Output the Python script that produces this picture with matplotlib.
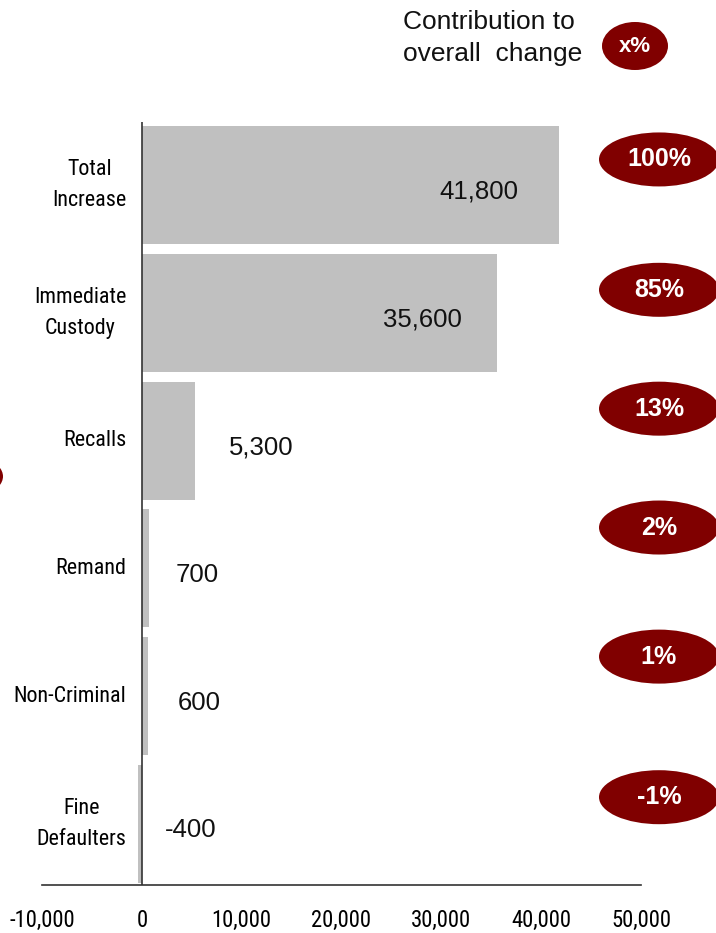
import matplotlib
matplotlib.use("Agg")
import matplotlib.pyplot as plt
from matplotlib.patches import Ellipse
from matplotlib import font_manager as fm

# ---------------- data ----------------
categories = ["Total\nIncrease", "Immediate\nCustody", "Recalls", "Remand",
              "Non-Criminal", "Fine\nDefaulters"]
values = [41800, 35600, 5300, 700, 600, -400]
value_labels = ["41,800", "35,600", "5,300", "700", "600", "-400"]
contributions = ["100%", "85%", "13%", "2%", "1%", "-1%"]
xticks = [-10000, 0, 10000, 20000, 30000, 40000, 50000]
xtick_labels = ["-10,000", "0", "10,000", "20,000", "30,000", "40,000", "50,000"]
legend_title = "Contribution to\noverall  change"
legend_badge = "x%"

# ---------------- layout / style ----------------
W, H = 716, 933
BAR = "#C0C0C0"
RED = "#800000"

names = {f.name for f in fm.fontManager.ttflist}
regular = [n for n in ["Liberation Sans", "DejaVu Sans"] if n in names]


def find_narrow():
    prefs = ["liberationsansnarrow-regular", "arialnarrow", "robotocondensed-regular",
             "opensanscondensed", "dejavusanscondensed.ttf", "notosans-condensed.ttf",
             "notosanscondensed-regular"]
    files = [f.fname for f in fm.fontManager.ttflist]
    for p in prefs:
        for fn in files:
            base = fn.lower().replace(" ", "").split("/")[-1]
            if base.startswith(p.split(".")[0]) and ("bold" not in base and "italic" not in base
                                                     and "light" not in base):
                return fn
    for f in fm.fontManager.ttflist:
        if str(f.stretch) in ("condensed", "semi-condensed", "semicondensed") and \
                f.weight in (400, "normal", "regular") and f.style == "normal":
            return f.fname
    return None


narrow_file = find_narrow()
if narrow_file:
    def nfp(size):
        return fm.FontProperties(fname=narrow_file, size=size)
else:
    def nfp(size):
        return fm.FontProperties(family=regular, size=size * 0.86)
CAT_SIZE = 15.8

label_dx = [-4100, -3500, 3400, 2700, 3000, 2300]   # value text offset (data units)
label_ha = ["right", "right", "left", "left", "left", "left"]
badge_dy = [-0.20, -0.18, -0.25, -0.32, -0.31, -0.21]  # badge vertical offset (rows)

fig = plt.figure(figsize=(W / 100, H / 100), dpi=100)
ax = fig.add_axes([42 / W, (H - 885) / H, (641 - 42) / W, (885 - 122) / H])

rows = list(range(len(categories)))
ax.barh(rows, values, height=0.923, color=BAR, edgecolor="none", zorder=2)
ax.set_xlim(-10000, 50000)
ax.set_ylim(5.477, -0.493)
ax.axvline(0, color="#333333", lw=1.2, zorder=3)

for s in ["top", "right", "left"]:
    ax.spines[s].set_visible(False)
ax.spines["bottom"].set_color("#333333")
ax.spines["bottom"].set_linewidth(1.2)
ax.set_yticks([])
ax.set_xticks(xticks)
ax.set_xticklabels(xtick_labels, fontproperties=nfp(16.3))
ax.tick_params(axis="x", length=0, pad=17)

for i, (cat, v, lab) in enumerate(zip(categories, values, value_labels)):
    ax.annotate(cat, xy=(0, i), xytext=(-11, 0), textcoords="offset points",
                ha="right", va="center", multialignment="center",
                fontproperties=nfp(CAT_SIZE), linespacing=1.6)
    base = v if label_ha[i] == "right" else max(v, 0)
    ax.text(base + label_dx[i], i + 0.05, lab, ha=label_ha[i], va="center",
            family=regular, fontsize=18.5, color="#111111", zorder=4)

# overlay in pixel coordinates for badges and header
ov = fig.add_axes([0, 0, 1, 1], zorder=5)
ov.set_xlim(0, W)
ov.set_ylim(0, H)
ov.axis("off")
ov.patch.set_alpha(0)

fig.canvas.draw()
for i, c in enumerate(contributions):
    yd = ax.transData.transform((0, i + badge_dy[i]))[1]
    ov.add_patch(Ellipse((659, yd), 120, 54, color=RED, lw=0))
    ov.text(659, yd, c, ha="center", va="center", color="white",
            fontweight="bold", family=regular, fontsize=18)

# left-edge partial badge
yl = ax.transData.transform((0, 2.28))[1]
ov.add_patch(Ellipse((-56, yl), 118, 54, color=RED, lw=0))

# header legend
ov.text(403, H - 38, legend_title, ha="left", va="center", family=regular,
        fontsize=19, linespacing=1.45, color="#111111")
ov.add_patch(Ellipse((635, H - 46), 66, 48, color=RED, lw=0))
ov.text(635, H - 46, legend_badge, ha="center", va="center", color="white",
        fontweight="bold", family=regular, fontsize=16)

fig.savefig("out.png", dpi=100)
